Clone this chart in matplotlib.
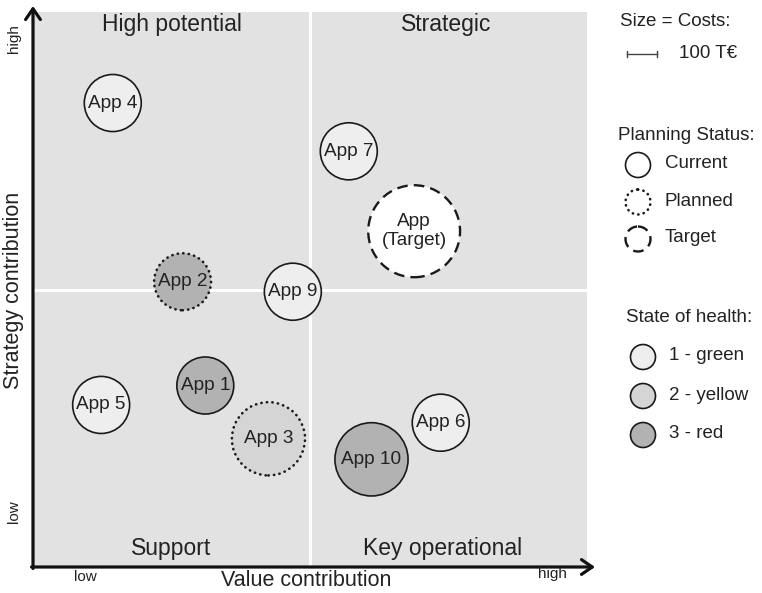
import matplotlib.pyplot as plt
from matplotlib.patches import Circle
import numpy as np

plt.rcParams['font.family'] = ['Liberation Sans', 'DejaVu Sans']

# portfolio data
apps = ["App 1", "App 2", "App 3", "App 4", "App 5", "App 6", "App 7", "App 9", "App 10", "App\n(Target)"]
value = [3.11, 2.70, 4.25, 1.44, 1.23, 7.36, 5.70, 4.69, 6.11, 6.88]
strategy = [3.27, 5.14, 2.31, 8.36, 2.92, 2.60, 7.49, 4.96, 1.94, 6.05]
costs = [100, 100, 165, 100, 100, 100, 100, 100, 165, 260]
status = ["current", "planned", "planned", "current", "current", "current", "current", "current", "current", "target"]
health = [3, 3, 2, 1, 1, 1, 1, 1, 3, 0]

quadrants = ["High potential", "Strategic", "Support", "Key operational"]
quad_x = [2.5, 7.45, 2.5, 7.4]
quad_y = [9.78, 9.78, 0.34, 0.34]

fills = {0: "white", 1: "#eeeeee", 2: "#d4d5d4", 3: "#b2b2b2"}
styles = {"current": dict(linestyle="-", linewidth=1.2),
          "planned": dict(linestyle=(0, (0.1, 2.0)), linewidth=1.9, capstyle="round"),
          "target": dict(linestyle=(0, (4.5, 2.6)), linewidth=1.7)}
edge = "#1a1a1a"
txt = "#222222"

fig = plt.figure(figsize=(7.62, 5.93), dpi=100)
ax = fig.add_axes([33 / 762, 26 / 593, 554 / 762, 555 / 593])
ax.set_xlim(0, 10)
ax.set_ylim(0, 10)
ax.set_facecolor("#e1e2e1")
for s in ax.spines.values():
    s.set_visible(False)
ax.set_xticks([])
ax.set_yticks([])

ax.axvline(5, color="white", lw=2.2, zorder=1)
ax.axhline(5, color="white", lw=2.2, zorder=1)

for q, x, y in zip(quadrants, quad_x, quad_y):
    ax.text(x, y, q, ha="center", va="center", fontsize=16.5, color=txt)

px = 55.45  # pixels per data unit
for name, x, y, c, st, h in zip(apps, value, strategy, costs, status, health):
    r = 28.5 * np.sqrt(c / 100) / px
    circ = Circle((x, y), r, facecolor=fills[h], edgecolor=edge, zorder=3, **styles[st])
    ax.add_patch(circ)
    ax.text(x, y, name, ha="center", va="center", fontsize=13.7, color=txt, zorder=4,
            linespacing=1.15)

# overlay in pixel coords for axes arrows and legend
ov = fig.add_axes([0, 0, 1, 1], facecolor="none")
ov.set_xlim(0, 762)
ov.set_ylim(593, 0)
ov.axis("off")

arrow = dict(arrowstyle="->,head_length=0.55,head_width=0.38", lw=2.3, color="#111111",
             mutation_scale=14, shrinkA=0, shrinkB=0)
ov.annotate("", xy=(595, 567), xytext=(31.5, 567), arrowprops=arrow)
ov.annotate("", xy=(33, 6), xytext=(33, 568.5), arrowprops=arrow)

ov.text(306, 580, "Value contribution", ha="center", va="center", fontsize=15.5, color=txt)
ov.text(85, 577, "low", ha="center", va="center", fontsize=11, color=txt)
ov.text(552, 574, "high", ha="center", va="center", fontsize=11, color=txt)
ov.text(14, 290, "Strategy contribution", ha="center", va="center", fontsize=15.5,
        rotation=90, color=txt)
ov.text(14, 39, "high", ha="center", va="center", fontsize=11, rotation=90, color=txt)
ov.text(14, 512, "low", ha="center", va="center", fontsize=11, rotation=90, color=txt)

# legend
lf = 13.5
ov.text(620, 22, "Size = Costs:", ha="left", va="center", fontsize=lf, color=txt)
ov.plot([627, 657], [54, 54], color="#444444", lw=1.0)
ov.plot([627, 627], [51, 57], color="#444444", lw=1.0)
ov.plot([657, 657], [51, 57], color="#444444", lw=1.0)
ov.text(679, 53, "100 T€", ha="left", va="center", fontsize=lf, color=txt)

ov.text(618, 136, "Planning Status:", ha="left", va="center", fontsize=lf, color=txt)
for st, label, y in zip(["current", "planned", "target"], ["Current", "Planned", "Target"],
                        [165, 202, 239]):
    ov.add_patch(Circle((638, y), 12.5, facecolor="none", edgecolor=edge, **styles[st]))
    ov.text(665, y - 1, label, ha="left", va="center", fontsize=lf, color=txt)

ov.text(626, 317, "State of health:", ha="left", va="center", fontsize=lf, color=txt)
for h, label, y in zip([1, 2, 3], ["1 - green", "2 - yellow", "3 - red"], [357, 396, 435]):
    ov.add_patch(Circle((643, y), 12.5, facecolor=fills[h], edgecolor=edge, lw=1.2))
    ov.text(669, y - 1, label, ha="left", va="center", fontsize=lf, color=txt)

fig.savefig("out.png", dpi=100)
